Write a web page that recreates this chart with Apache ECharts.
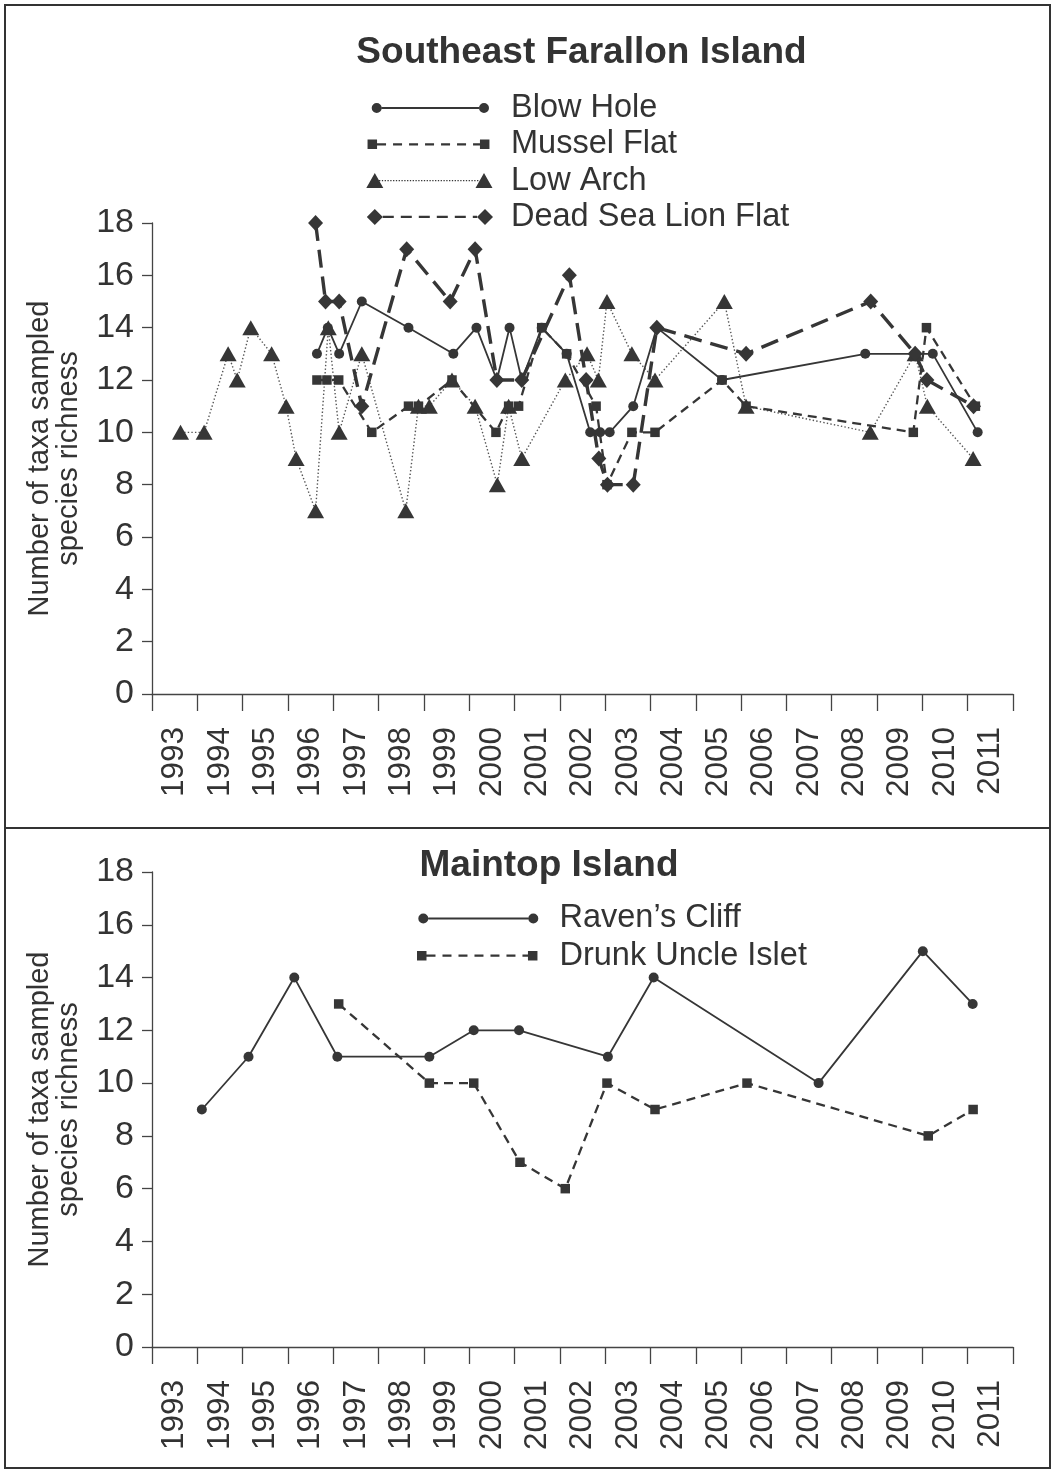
<!DOCTYPE html>
<html>
<head>
<meta charset="utf-8">
<script src="https://cdn.jsdelivr.net/npm/echarts@6/dist/echarts.min.js"></script>
<style>
html,body{margin:0;padding:0;background:#ffffff;}
#chart{width:1055px;height:1472px;}
</style>
</head>
<body>
<div id="chart"></div>
<script>
// ---------- data ----------
const yearLabels = ['1993','1994','1995','1996','1997','1998','1999','2000','2001','2002','2003','2004','2005','2006','2007','2008','2009','2010','2011'];
const yMin = 0, yMax = 18, yStep = 2;

// Southeast Farallon Island
const blowHoleYear = [1996.64,1996.88,1997.13,1997.63,1998.66,1999.65,2000.16,2000.61,2000.89,2001.16,2001.6,2002.15,2002.67,2002.89,2003.1,2003.62,2004.14,2005.58,2008.74,2009.84,2010.23,2011.22];
const blowHoleTaxa = [13,14,13,15,14,13,14,12,14,12,14,13,10,10,10,11,14,12,13,13,13,10];

const musselFlatYear = [1996.64,1996.86,1997.12,1997.85,1998.66,1998.88,1999.62,2000.59,2000.87,2001.09,2001.6,2002.15,2002.8,2003.04,2003.59,2004.1,2005.58,2006.11,2009.8,2010.09,2011.17];
const musselFlatTaxa = [12,12,12,10,11,11,12,10,11,11,14,13,11,8,10,10,12,11,10,14,11];

const lowArchYear = [1993.63,1994.15,1994.68,1994.88,1995.18,1995.64,1995.96,1996.18,1996.61,1996.89,1997.13,1997.63,1998.6,1998.88,1999.12,1999.62,2000.13,2000.62,2000.87,2001.16,2002.12,2002.6,2002.85,2003.04,2003.59,2004.1,2005.63,2006.11,2008.85,2009.84,2010.11,2011.12];
const lowArchTaxa = [10,10,13,12,14,13,11,9,7,14,10,13,7,11,11,12,11,8,11,9,12,13,12,15,13,12,15,11,10,13,11,9];

const deadSeaLionYear = [1996.61,1996.83,1997.13,1997.63,1998.62,1999.58,2000.13,2000.61,2001.16,2002.21,2002.58,2002.86,2003.05,2003.62,2004.14,2006.11,2008.86,2009.84,2010.1,2011.13];
const deadSeaLionTaxa = [18,15,15,11,17,15,17,12,12,16,12,9,8,8,14,13,15,13,12,11];

// Maintop Island
const ravensCliffYear = [1994.1,1995.13,1996.14,1997.09,1999.12,2000.1,2001.1,2003.06,2004.07,2007.71,2010.01,2011.11];
const ravensCliffTaxa = [9,11,14,11,11,12,12,11,14,10,15,13];

const drunkUncleYear = [1997.12,1999.12,2000.1,2001.12,2002.12,2003.04,2004.1,2006.13,2010.13,2011.12];
const drunkUncleTaxa = [13,10,10,7,6,10,9,10,8,9];

// ---------- styling helpers ----------
const FONT = "'Liberation Sans', Arial, Helvetica, sans-serif";
const INK = '#363636';
const TXT = '#333333';

function pairs(xs, ys) { return xs.map((x, i) => [x, ys[i]]); }
function f(n) { return (+n).toFixed(2); }

function shapePath(shape, cx, cy, w, h) {
  const r = w / 2;
  if (shape === 'circle') {
    return 'M' + f(cx - r) + ' ' + f(cy) + 'A' + f(r) + ' ' + f(r) + ' 0 1 1 ' + f(cx + r) + ' ' + f(cy) +
           'A' + f(r) + ' ' + f(r) + ' 0 1 1 ' + f(cx - r) + ' ' + f(cy) + 'Z';
  }
  if (shape === 'rect') {
    return 'M' + f(cx - w/2) + ' ' + f(cy - h/2) + 'L' + f(cx + w/2) + ' ' + f(cy - h/2) +
           'L' + f(cx + w/2) + ' ' + f(cy + h/2) + 'L' + f(cx - w/2) + ' ' + f(cy + h/2) + 'Z';
  }
  if (shape === 'triangle') {
    return 'M' + f(cx) + ' ' + f(cy - h/2) + 'L' + f(cx + w/2) + ' ' + f(cy + h/2) + 'L' + f(cx - w/2) + ' ' + f(cy + h/2) + 'Z';
  }
  return 'M' + f(cx) + ' ' + f(cy - h/2) + 'L' + f(cx + w/2) + ' ' + f(cy) + 'L' + f(cx) + ' ' + f(cy + h/2) + 'L' + f(cx - w/2) + ' ' + f(cy) + 'Z';
}
function bar(x0, x1, cy, t) {
  return 'M' + f(x0) + ' ' + f(cy - t/2) + 'L' + f(x1) + ' ' + f(cy - t/2) + 'L' + f(x1) + ' ' + f(cy + t/2) + 'L' + f(x0) + ' ' + f(cy + t/2) + 'Z';
}
function legendIcon(o) {
  const cy = o.H / 2;
  let d = 'M0 0L0 0M' + o.W + ' ' + o.H + 'L' + o.W + ' ' + o.H;
  const edge = o.shape === 'triangle' ? o.mw / 4 : o.mw / 2;
  const s = o.a + edge, e = o.b - edge;
  if (!o.dash) {
    d += bar(s, e, cy, o.t);
  } else {
    for (let p = s; p < e - 0.5; p += o.dash + o.gap) d += bar(p, Math.min(p + o.dash, e), cy, o.t);
  }
  d += shapePath(o.shape, o.a, cy, o.mw, o.mh) + shapePath(o.shape, o.b, cy, o.mw, o.mh);
  return 'path://' + d;
}

function lineSeries(name, xs, ys, axisIdx, symbol, symbolSize, lineWidth, lineType, lineColor) {
  return {
    name: name,
    type: 'line',
    xAxisIndex: axisIdx * 2,
    yAxisIndex: axisIdx,
    data: pairs(xs, ys),
    symbol: symbol,
    symbolSize: symbolSize,
    showSymbol: true,
    showAllSymbol: true,
    itemStyle: { color: INK, borderWidth: 0 },
    lineStyle: { color: lineColor || INK, width: lineWidth, type: lineType },
    emphasis: { disabled: true },
    silent: true,
    z: 3
  };
}

function xAxes(gridIndex) {
  return [
    {
      type: 'value', gridIndex: gridIndex, min: 1993, max: 2012, interval: 1, position: 'bottom',
      axisLine: { show: true, onZero: false, lineStyle: { color: '#444', width: 1.3 } },
      axisTick: { show: true, length: 17, lineStyle: { color: '#444', width: 1.3 } },
      axisLabel: { show: false },
      splitLine: { show: false }
    },
    {
      type: 'category', gridIndex: gridIndex, data: yearLabels, boundaryGap: true, position: 'bottom',
      axisLine: { show: false }, axisTick: { show: false }, splitLine: { show: false },
      axisLabel: { show: true, interval: 0, rotate: 90, margin: 33, fontSize: 31.5, color: TXT, fontFamily: FONT, hideOverlap: false }
    }
  ];
}
function yAxis(gridIndex) {
  return {
    type: 'value', gridIndex: gridIndex, min: yMin, max: yMax, interval: yStep,
    name: 'Number of taxa sampled\nspecies richness',
    nameLocation: 'middle', nameGap: 69, nameMoveOverlap: false,
    nameTextStyle: { fontSize: 29, lineHeight: 29, color: TXT, fontFamily: FONT },
    axisLine: { show: true, onZero: false, lineStyle: { color: '#444', width: 1.3 } },
    axisTick: { show: true, length: 10, lineStyle: { color: '#444', width: 1.3 } },
    axisLabel: { fontSize: 34, margin: 18, color: TXT, fontFamily: FONT },
    splitLine: { show: false }
  };
}

const topIcons = {
  'Blow Hole': legendIcon({ W: 140, H: 16, shape: 'circle', mw: 10, mh: 10, a: 10.7, b: 118, t: 2 }),
  'Mussel Flat': legendIcon({ W: 140, H: 16, shape: 'rect', mw: 9.5, mh: 9.5, a: 6.3, b: 118.7, t: 2.2, dash: 9, gap: 7 }),
  'Low Arch': legendIcon({ W: 140, H: 16, shape: 'triangle', mw: 17, mh: 15, a: 8.8, b: 118, t: 1.2, dash: 1.3, gap: 1.5 }),
  'Dead Sea Lion Flat': legendIcon({ W: 140, H: 16, shape: 'diamond', mw: 16, mh: 16, a: 8.8, b: 119, t: 2.4, dash: 11, gap: 7 })
};
const bottomIcons = {
  'Raven\u2019s Cliff': legendIcon({ W: 137.5, H: 16, shape: 'circle', mw: 10, mh: 10, a: 6.3, b: 116.3, t: 2 }),
  'Drunk Uncle Islet': legendIcon({ W: 137.5, H: 16, shape: 'rect', mw: 9.5, mh: 9.5, a: 4.7, b: 115.7, t: 2.2, dash: 9, gap: 7 })
};
function legendData(icons) {
  return Object.keys(icons).map(n => ({ name: n, icon: icons[n], itemStyle: { color: INK, borderWidth: 0, opacity: 1 } }));
}

const option = {
  animation: false,
  backgroundColor: '#ffffff',
  textStyle: { fontFamily: FONT },
  title: [
    { text: 'Southeast Farallon Island', left: 581.5, top: 34.5, textAlign: 'center', padding: 0,
      textStyle: { fontSize: 37, fontWeight: 'bold', color: TXT, fontFamily: FONT } },
    { text: 'Maintop Island', left: 549, top: 847.5, textAlign: 'center', padding: 0,
      textStyle: { fontSize: 37, fontWeight: 'bold', color: TXT, fontFamily: FONT } }
  ],
  legend: [
    { orient: 'vertical', left: 366, top: 91.5, padding: 0, itemGap: 3.3, itemWidth: 140, itemHeight: 16,
      symbolKeepAspect: true, selectedMode: false, data: legendData(topIcons),
      textStyle: { fontSize: 32.5, color: TXT, fontFamily: FONT } },
    { orient: 'vertical', left: 417, top: 902, padding: 0, itemGap: 4.2, itemWidth: 137.5, itemHeight: 16,
      symbolKeepAspect: true, selectedMode: false, data: legendData(bottomIcons),
      textStyle: { fontSize: 32.5, color: TXT, fontFamily: FONT } }
  ],
  grid: [
    { left: 152, top: 223, width: 861, height: 471, containLabel: false, outerBoundsMode: 'none' },
    { left: 152, top: 872, width: 861, height: 475, containLabel: false, outerBoundsMode: 'none' }
  ],
  xAxis: xAxes(0).concat(xAxes(1)),
  yAxis: [yAxis(0), yAxis(1)],
  series: [
    lineSeries('Low Arch', lowArchYear, lowArchTaxa, 0, 'triangle', [17, 15], 1.4, [1.4, 2.2], '#555'),
    lineSeries('Mussel Flat', musselFlatYear, musselFlatTaxa, 0, 'rect', [9.5, 9.5], 2.3, [9, 6]),
    lineSeries('Blow Hole', blowHoleYear, blowHoleTaxa, 0, 'circle', 10, 1.8, 'solid'),
    lineSeries('Dead Sea Lion Flat', deadSeaLionYear, deadSeaLionTaxa, 0, 'diamond', [15, 16], 3.4, [18, 9]),
    lineSeries('Raven\u2019s Cliff', ravensCliffYear, ravensCliffTaxa, 1, 'circle', 10, 1.8, 'solid'),
    lineSeries('Drunk Uncle Islet', drunkUncleYear, drunkUncleTaxa, 1, 'rect', [9.5, 9.5], 2.3, [9, 6])
  ],
  graphic: [
    { type: 'rect', shape: { x: 5, y: 5, width: 1045, height: 1463 }, style: { fill: 'none', stroke: '#333', lineWidth: 2 }, silent: true, z: 100 },
    { type: 'line', shape: { x1: 5, y1: 828, x2: 1050, y2: 828 }, style: { stroke: '#333', lineWidth: 2 }, silent: true, z: 100 }
  ]
};

const chart = echarts.init(document.getElementById('chart'), null, { renderer: 'canvas' });
chart.setOption(option);
</script>
</body>
</html>
